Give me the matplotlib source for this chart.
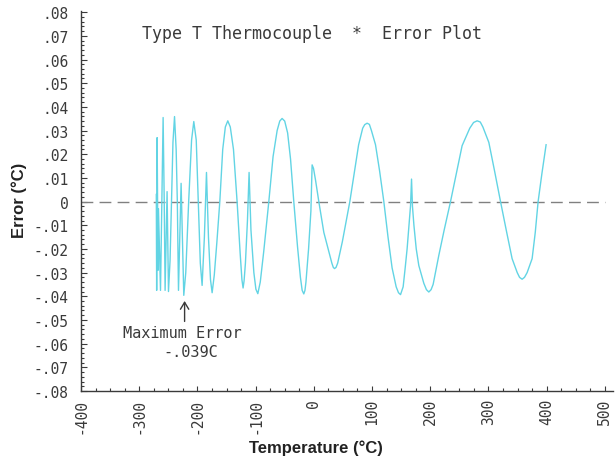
import matplotlib
matplotlib.use("Agg")
import matplotlib.pyplot as plt
from matplotlib.ticker import MultipleLocator
import numpy as np

# error curve (temperature in C, error in C)
temps = [-270.6, -270.0, -269.2, -267.6, -266.9, -263.4, -261.0, -258.9, -257.0,
         -255.5, -252.1, -249.7, -247.0, -244.5, -242.0, -239.3, -236.5, -234.5,
         -232.5, -228.0, -223.4, -220.0, -215.0, -210.0, -206.2, -202.0, -198.5,
         -195.0, -191.9, -188.0, -184.4, -181.0, -177.5, -174.7, -171.0, -166.5,
         -161.5, -156.5, -152.0, -147.8, -143.5, -138.0, -131.8, -126.5, -123.5,
         -121.5, -119.8, -117.5, -114.0, -111.2, -108.0, -103.0, -99.5, -96.2, -92.0,
         -86.0, -77.3, -70.0, -63.0, -58.5, -54.5, -50.0, -45.0, -40.0, -34.4,
         -28.0, -23.0, -20.0, -17.2, -15.2, -13.5, -9.0, -5.0, -3.5, -2.9, -0.5, 3.0,
         8.6, 17.2, 25.8, 31.0, 33.5, 35.6, 38.2, 41.0, 49.0, 61.9, 70.0, 77.0, 84.0,
         87.5, 91.6, 95.5, 99.0, 106.0, 113.0, 120.3, 127.5, 134.5, 141.5, 145.5,
         149.0, 153.5, 157.0, 160.3, 163.5, 166.2, 167.9, 169.5, 172.0, 176.0, 180.4,
         189.0, 193.5, 197.6, 201.5, 205.0, 214.8, 224.0, 234.9, 245.0, 254.8, 268.0,
         274.5, 280.6, 286.0, 290.5, 300.7, 310.5, 320.8, 331.0, 340.7, 349.5, 353.5,
         357.9, 362.0, 366.5, 375.1, 380.5, 385.4, 392.0, 399.1]
errs = [0.003, -0.0375, 0.027, -0.029, -0.003, -0.0375, 0.0, 0.0355, 0.0,
        -0.0375, 0.0042, -0.038, -0.025, 0.0, 0.025, 0.0359, 0.022, 0.0,
        -0.0375, 0.0077, -0.0396, -0.030, 0.0, 0.026, 0.0338, 0.026, 0.0,
        -0.026, -0.0354, -0.015, 0.0123, -0.015, -0.033, -0.0385, -0.031, -0.017,
        0.0, 0.022, 0.0315, 0.0341, 0.0315, 0.022, 0.0, -0.022, -0.033,
        -0.0365, -0.0335, -0.026, -0.008, 0.0123, -0.012, -0.030, -0.037, -0.0389, -0.034,
        -0.021, 0.0, 0.019, 0.030, 0.034, 0.0351, 0.034, 0.029, 0.018, 0.0,
        -0.019, -0.032, -0.0375, -0.039, -0.0375, -0.034, -0.020, -0.004, 0.010, 0.0155,
        0.014, 0.009,
        0.0, -0.013, -0.021, -0.026, -0.0278, -0.0283, -0.0278, -0.026, -0.017, 0.0,
        0.013, 0.024, 0.031,
        0.0325, 0.0331, 0.0326, 0.030, 0.024, 0.013, 0.0, -0.015, -0.028, -0.036, -0.0385,
        -0.0393, -0.036, -0.028, -0.020, -0.010, -0.0017, 0.0095, -0.002, -0.010, -0.020,
        -0.027,
        -0.0345, -0.0372, -0.0382, -0.0372, -0.035, -0.0227, -0.012, 0.0, 0.012, 0.0236,
        0.031,
        0.0334, 0.0341, 0.0336, 0.0315, 0.025, 0.013, 0.0, -0.0125, -0.0241, -0.030,
        -0.0320,
        -0.0328, -0.0320, -0.030, -0.0241, -0.013, 0.0, 0.012, 0.024]

xticks = [-400, -300, -200, -100, 0, 100, 200, 300, 400, 500]
xticklabels = ["-400", "-300", "-200", "-100", "0", "100", "200", "300", "400", "500"]
yticks = [0.08, 0.07, 0.06, 0.05, 0.04, 0.03, 0.02, 0.01, 0.0,
          -0.01, -0.02, -0.03, -0.04, -0.05, -0.06, -0.07, -0.08]
yticklabels = [".08", ".07", ".06", ".05", ".04", ".03", ".02", ".01", "0",
               "-.01", "-.02", "-.03", "-.04", "-.05", "-.06", "-.07", "-.08"]

max_err_temp = -222

mono = "DejaVu Sans Mono"
ink = "#3a3a3a"

fig = plt.figure(figsize=(6.15, 4.64), dpi=100)
ax = fig.add_axes([0.1317, 0.1552, 0.8650, 0.8190])

ax.plot(temps, errs, color="#62d4e4", lw=1.0, zorder=3)
ax.hlines(0, xticks[0], xticks[-1], colors="#808080", lw=1.0,
          linestyles=(0, (8.5, 4.5)), zorder=2)

ax.set_xlim(-400, 514)
ax.set_ylim(-0.08, 0.0805)

for side in ["top", "right"]:
    ax.spines[side].set_visible(False)
for side in ["left", "bottom"]:
    ax.spines[side].set_color(ink)
    ax.spines[side].set_linewidth(1.0)

ax.set_xticks(xticks)
ax.set_xticklabels(xticklabels, rotation=90, family=mono, fontsize=10.5, color=ink)
ax.set_yticks(yticks)
ax.set_yticklabels(yticklabels, family=mono, fontsize=10.5, color=ink)
ax.xaxis.set_minor_locator(MultipleLocator(25))
ax.yaxis.set_minor_locator(MultipleLocator(0.002))
ax.tick_params(axis="x", which="major", direction="in", length=3.5, width=0.8,
               color=ink, pad=5)
ax.tick_params(axis="x", which="minor", direction="in", length=2.2, width=0.8, color=ink)
ax.tick_params(axis="y", which="major", direction="in", length=4.5, width=0.8,
               color=ink, pad=9)
ax.tick_params(axis="y", which="minor", direction="in", length=2.2, width=0.8, color=ink)

ax.set_xlabel("Temperature (\u00b0C)", family="Liberation Sans", fontweight="bold",
              fontsize=12, color="#222222")
ax.xaxis.set_label_coords(0.441, -0.127)
ax.set_ylabel("Error (\u00b0C)", family="Liberation Sans", fontweight="bold",
              fontsize=12, color="#222222")
ax.yaxis.set_label_coords(-0.101, 0.505)

ax.text(-3, 0.0713, "Type T Thermocouple  *  Error Plot", family=mono,
        fontsize=12, color=ink, ha="center", va="center")

ax.annotate("", xy=(max_err_temp, -0.0408), xytext=(max_err_temp, -0.0518),
            arrowprops=dict(arrowstyle="->,head_length=0.5,head_width=0.3",
                            color=ink, lw=1.0))
ax.text(-226, -0.0555, "Maximum Error", family=mono, fontsize=11,
        color=ink, ha="center", va="center")
ax.text(-212, -0.0632, "-.039C", family=mono, fontsize=11,
        color=ink, ha="center", va="center")

fig.savefig("out.png", dpi=100)
